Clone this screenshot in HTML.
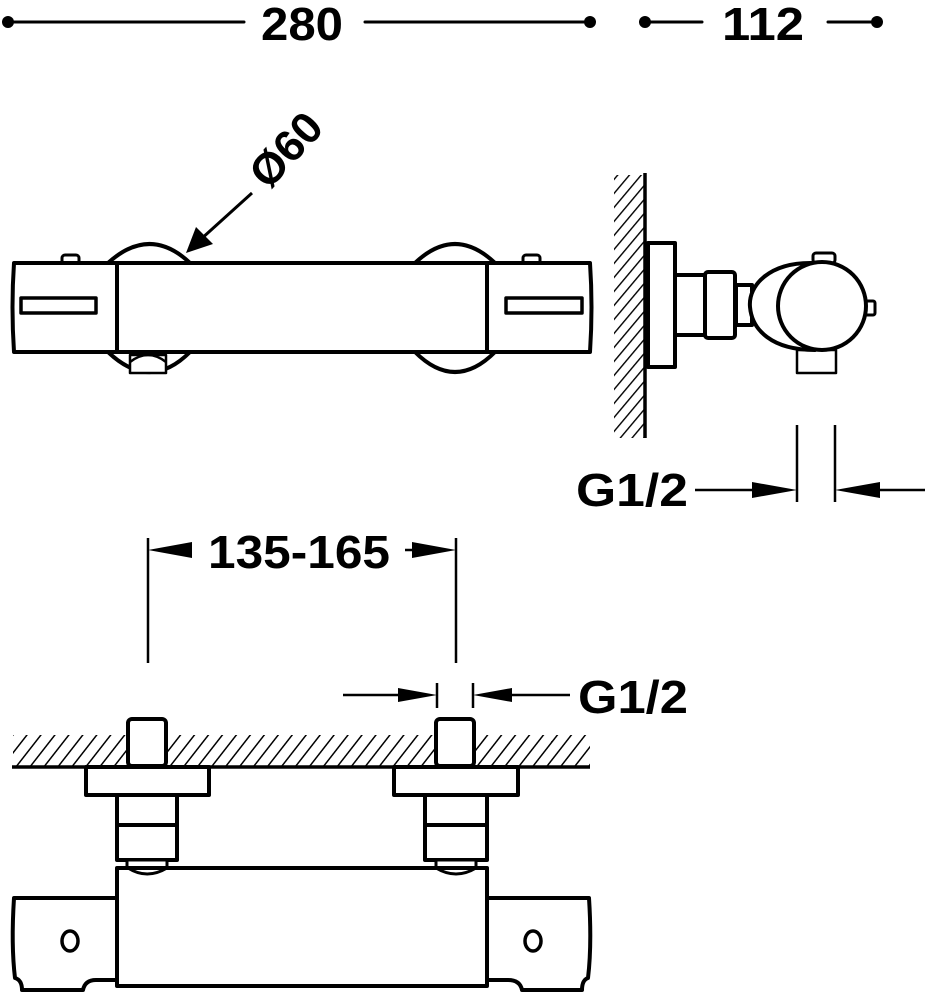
<!DOCTYPE html>
<html><head><meta charset="utf-8"><style>
html,body{margin:0;padding:0;background:#fff;}
svg{display:block;}
text{font-family:"Liberation Sans Narrow","Liberation Sans",sans-serif;font-weight:bold;fill:#000;}
</style></head><body>
<svg width="930" height="1000" viewBox="0 0 930 1000" xmlns="http://www.w3.org/2000/svg">
<defs>
<pattern id="hv" width="9" height="9" patternUnits="userSpaceOnUse" patternTransform="rotate(40)">
<line x1="0" y1="0" x2="0" y2="9" stroke="#000" stroke-width="2.8"/>
</pattern>
<pattern id="hh" width="11" height="11" patternUnits="userSpaceOnUse" patternTransform="rotate(38)">
<line x1="0" y1="0" x2="0" y2="11" stroke="#000" stroke-width="3"/>
</pattern>
</defs>
<g stroke="#000" fill="none" stroke-linejoin="round" stroke-linecap="round">
<line x1="8" y1="22" x2="244" y2="22" stroke-width="3"/>
<line x1="365" y1="22" x2="590" y2="22" stroke-width="3"/>
<line x1="645" y1="22" x2="702" y2="22" stroke-width="3"/>
<line x1="828" y1="22" x2="877" y2="22" stroke-width="3"/>
</g>
<g fill="#000">
<circle cx="8" cy="22" r="6"/><circle cx="590" cy="22" r="6"/>
<circle cx="645" cy="22" r="6"/><circle cx="877" cy="22" r="6"/>
</g>
<text x="302" y="40" font-size="46" text-anchor="middle" textLength="82" lengthAdjust="spacingAndGlyphs">280</text>
<text x="763" y="40" font-size="46" text-anchor="middle" textLength="82" lengthAdjust="spacingAndGlyphs">112</text>

<text x="0" y="0" font-size="44" text-anchor="middle" transform="translate(297,160) rotate(-47)" textLength="84" lengthAdjust="spacingAndGlyphs">Ø60</text>
<line x1="252" y1="193" x2="200" y2="240" stroke="#000" stroke-width="3"/>
<polygon points="186,253 196,227 213,244" fill="#000"/>

<g stroke="#000" fill="#fff" stroke-width="4" stroke-linejoin="round">
<path d="M108,263 Q150,225 190,263"/>
<path d="M108,352 Q150,392 190,352"/>
<path d="M415,263 Q455,225 495,263"/>
<path d="M415,352 Q455,392 495,352"/>
<rect x="130" y="355" width="36" height="18" stroke-width="2.5"/>
<path d="M130,362 Q148,348 166,362" stroke-width="2.5" fill="none"/>
<rect x="62" y="255" width="17" height="9" rx="3" stroke-width="3"/>
<rect x="523" y="255" width="17" height="9" rx="3" stroke-width="3"/>
<path d="M14,263 L590,263 Q593,307 590,352 L14,352 Q11,307 14,263 Z"/>
<line x1="117" y1="263" x2="117" y2="352"/>
<line x1="487" y1="263" x2="487" y2="352"/>
<rect x="21" y="298" width="75" height="15" stroke-width="3.5"/>
<rect x="506" y="298" width="76" height="15" stroke-width="3.5"/>
</g>

<rect x="614" y="175" width="31" height="263" fill="url(#hv)"/>
<line x1="645" y1="173" x2="645" y2="438" stroke="#000" stroke-width="3.5"/>
<g stroke="#000" fill="#fff" stroke-width="4" stroke-linejoin="round">
<rect x="648" y="243" width="27" height="124"/>
<rect x="675" y="275" width="30" height="60"/>
<rect x="705" y="272" width="30" height="66" rx="3"/>
<rect x="736" y="285" width="16" height="40"/>
<rect x="813" y="253" width="22" height="10" rx="3" stroke-width="3"/>
<rect x="865" y="301" width="10" height="14" rx="2" stroke-width="3"/>
<rect x="797" y="350" width="39" height="23" stroke-width="2.5"/>
<path d="M813,263 C770,262 748,285 750,307 C752,330 772,350 815,350 Z"/>
<circle cx="822" cy="306" r="44"/>
</g>
<g stroke="#000" stroke-width="2.5">
<line x1="797" y1="425" x2="797" y2="502"/>
<line x1="835" y1="425" x2="835" y2="502"/>
<line x1="695" y1="490" x2="770" y2="490"/>
<line x1="860" y1="490" x2="925" y2="490"/>
</g>
<polygon points="797,490 752,482 752,498" fill="#000"/>
<polygon points="835,490 880,482 880,498" fill="#000"/>
<text x="632" y="506" font-size="46" text-anchor="middle" textLength="112" lengthAdjust="spacingAndGlyphs">G1/2</text>

<g stroke="#000" stroke-width="2.5">
<line x1="148" y1="538" x2="148" y2="663"/>
<line x1="456" y1="538" x2="456" y2="663"/>
<line x1="160" y1="550" x2="192" y2="550"/>
<line x1="405" y1="550" x2="440" y2="550"/>
<line x1="437" y1="683" x2="437" y2="708"/>
<line x1="473" y1="683" x2="473" y2="708"/>
<line x1="343" y1="695" x2="410" y2="695"/>
<line x1="500" y1="695" x2="570" y2="695"/>
</g>
<polygon points="148,550 192,542 192,558" fill="#000"/>
<polygon points="456,550 412,542 412,558" fill="#000"/>
<polygon points="437,695 398,688 398,702" fill="#000"/>
<polygon points="473,695 512,688 512,702" fill="#000"/>
<text x="299" y="568" font-size="46" text-anchor="middle" textLength="182" lengthAdjust="spacingAndGlyphs">135-165</text>
<text x="633" y="713" font-size="46" text-anchor="middle" textLength="110" lengthAdjust="spacingAndGlyphs">G1/2</text>

<rect x="13" y="735" width="577" height="31" fill="url(#hh)"/>
<g stroke="#000" fill="#fff" stroke-width="4" stroke-linejoin="round">
<rect x="128" y="719" width="38" height="47" rx="4"/>
<rect x="436" y="719" width="38" height="47" rx="4"/>
</g>
<line x1="12" y1="767" x2="590" y2="767" stroke="#000" stroke-width="3.5"/>
<g stroke="#000" fill="#fff" stroke-width="4" stroke-linejoin="round">
<rect x="86" y="767" width="123" height="28"/>
<rect x="394" y="767" width="124" height="28"/>
<rect x="117" y="795" width="60" height="65"/>
<line x1="117" y1="825" x2="177" y2="825"/>
<rect x="425" y="795" width="62" height="65"/>
<line x1="425" y1="825" x2="487" y2="825"/>
<rect x="127" y="860" width="40" height="12" stroke-width="3"/>
<rect x="436" y="860" width="40" height="12" stroke-width="3"/>
<rect x="117" y="868" width="370" height="118"/>
<path d="M128,868 Q147,880 167,868" fill="none" stroke-width="3"/>
<path d="M436,868 Q456,880 476,868" fill="none" stroke-width="3"/>
<path d="M117,898 L14,898 Q11,945 15,978 Q22,980 22,990 L83,990 Q85,980 96,980 L117,980 Z"/>
<path d="M487,898 L589,898 Q592,945 588,978 Q582,980 582,990 L522,990 Q520,980 508,980 L487,980 Z"/>
<ellipse cx="70" cy="941" rx="8" ry="10" stroke-width="3.5"/>
<ellipse cx="533" cy="941" rx="8" ry="10" stroke-width="3.5"/>
</g>
</svg>
</body></html>
